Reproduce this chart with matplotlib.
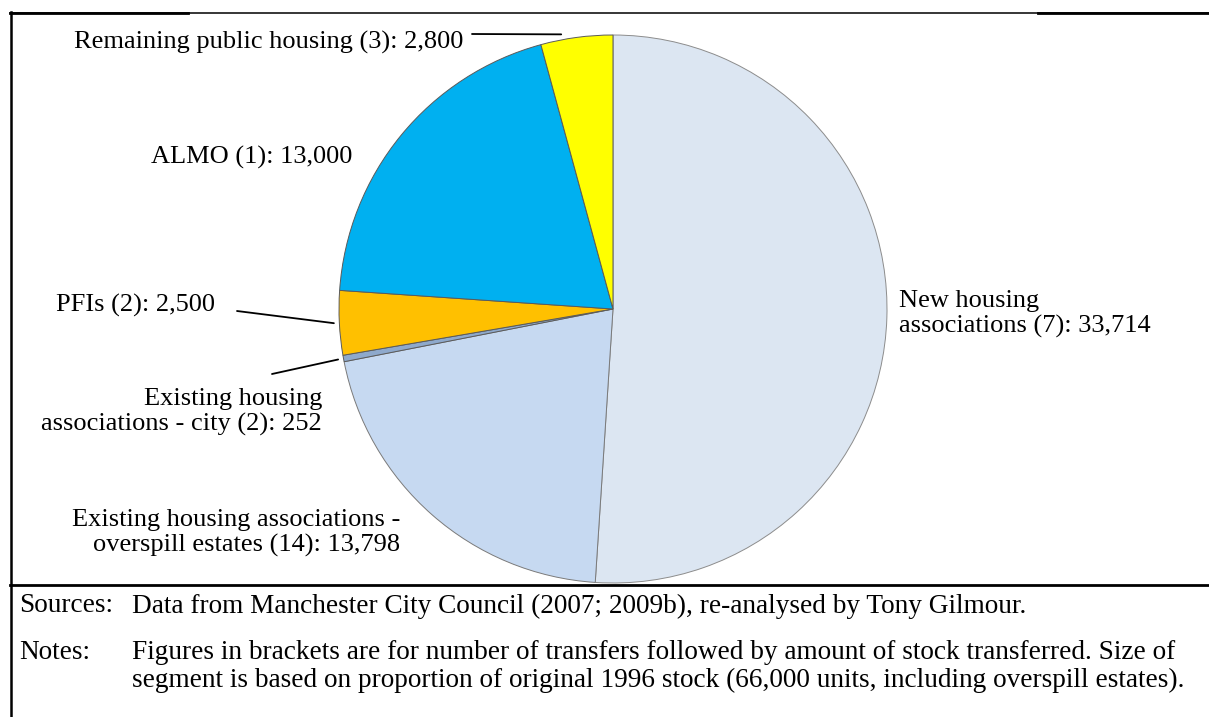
import matplotlib
matplotlib.use("Agg")
import matplotlib.pyplot as plt
from matplotlib.lines import Line2D
import numpy as np

# Stock transfers in Manchester since 1996
names = ["New housing\nassociations",
         "Existing housing associations -\noverspill estates",
         "Existing housing\nassociations - city",
         "PFIs",
         "ALMO",
         "Remaining public housing"]
transfers = [7, 14, 2, 2, 1, 3]
units = [33714, 13798, 252, 2500, 13000, 2800]
colors = ["#DCE6F2", "#C6D9F1", "#8EA9CC", "#FFC000", "#00B0F0", "#FFFF00"]

sources = "Data from Manchester City Council (2007; 2009b), re-analysed by Tony Gilmour."
notes = ("Figures in brackets are for number of transfers followed by amount of stock transferred. Size of\n"
         "segment is based on proportion of original 1996 stock (66,000 units, including overspill estates).")

W, H = 1209, 717
plt.rcParams["font.family"] = ["Liberation Serif", "DejaVu Serif"]
FS = 19
FS_FOOT = 19.6
LS = 1.15

fig = plt.figure(figsize=(W / 100, H / 100), dpi=100)


def fx(x, y):
    # pixel position (from top-left) -> figure fraction
    return x / W, 1 - y / H


# pie placed by centre and radius in pixels
cx, cy, r = 613, 309, 274
ax = fig.add_axes([(cx - r) / W, (H - cy - r) / H, 2 * r / W, 2 * r / H])
wedges, _ = ax.pie(units, colors=colors, startangle=90, counterclock=False,
                   wedgeprops=dict(edgecolor="#5a5a5a", linewidth=0.7))
wedges[0].set_edgecolor("#8c8c8c")
wedges[1].set_edgecolor("#7a7a7a")
ax.set_xlim(-1, 1)
ax.set_ylim(-1, 1)
ax.set_aspect("equal")
ax.axis("off")

labels = [f"{n} ({t}): {u:,}" for n, t, u in zip(names, transfers, units)]

# label anchors (px), alignment, leader start (px), where on the wedge the leader ends
label_pos = [
    (899, 314, "left", None, 0.5),
    (400, 533, "right", None, 0.5),
    (322, 412, "right", (272, 374), 0.5),
    (215, 305, "right", (237, 311), 0.5),
    (352, 157, "right", None, 0.5),
    (463, 42, "right", (472, 34), 0.7),
]

for w, lab, (x, y, ha, lead, frac) in zip(wedges, labels, label_pos):
    fig.text(*fx(x, y), lab, ha=ha, va="center", multialignment=ha,
             fontsize=FS, linespacing=LS)
    if lead is not None:
        ang = np.deg2rad(w.theta1 + frac * (w.theta2 - w.theta1))
        ex, ey = 1.02 * np.cos(ang), 1.02 * np.sin(ang)
        ax.annotate("", xy=(ex, ey), xycoords="data",
                    xytext=fx(*lead), textcoords="figure fraction",
                    arrowprops=dict(arrowstyle="-", color="black", lw=1.3,
                                    shrinkA=0, shrinkB=0),
                    annotation_clip=False)


def hline(x0, x1, y, lw):
    (a, b), (c, _) = fx(x0, y), fx(x1, y)
    fig.add_artist(Line2D([a, c], [b, b], color="black", lw=lw,
                          transform=fig.transFigure))


# frame
hline(10, W, 13, 1.1)
hline(10, 188, 13, 2.0)
hline(1038, W, 13, 2.0)
hline(10, W, 585, 2.0)
x0, y0 = fx(10.5, 12)
_, y1 = fx(10.5, H)
fig.add_artist(Line2D([x0, x0], [y0, y1], color="black", lw=1.8,
                      transform=fig.transFigure))

# footer
fig.text(*fx(19, 606), "Sources:", ha="left", va="center", fontsize=FS_FOOT)
fig.text(*fx(132, 606), sources, ha="left", va="center", fontsize=FS_FOOT)
fig.text(*fx(19, 640), "Notes:", ha="left", va="top", fontsize=FS_FOOT)
fig.text(*fx(132, 640), notes, ha="left", va="top", fontsize=FS_FOOT,
         linespacing=LS)

fig.savefig("out.png", dpi=100)
